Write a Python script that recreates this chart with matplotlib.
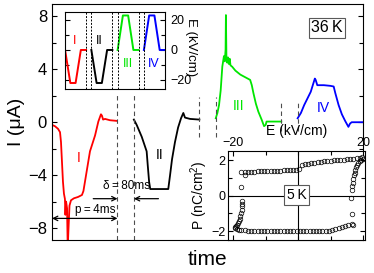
import matplotlib

matplotlib.use("Agg")
import matplotlib.pyplot as plt

plt.rcParams["font.family"] = ["Liberation Sans", "DejaVu Sans"]
plt.rcParams["mathtext.fontset"] = "custom"
plt.rcParams["mathtext.rm"] = "Liberation Sans"

# pulse windows: width p = 4, gap delta = 1 (arbitrary time units)
WINDOW_EDGES = [4, 5, 9, 10, 14, 15]
DASH_YMIN = [-8.9, -8.9, -1.1, -1.1, -0.7, -0.7]
DASH_YMAX = [2.1, 2.1, 1.9, 1.9, 1.7, 1.7]

# main panel: current I (uA) for the four pulses at 36 K
T_I = [0.0, 0.18, 0.37, 0.49, 0.55, 0.61, 0.67, 0.73, 0.79, 0.82, 0.86, 0.92,
       0.96, 1.01, 1.07, 1.16, 1.34, 1.59, 1.83, 1.92, 2.08, 2.32, 2.63, 2.83,
       2.99, 3.05, 3.12, 3.24, 3.54, 3.97]
I_I = [-0.2, -0.3, -0.5, -0.75, -1.5, -3.0, -4.5, -5.4, -5.8, -7.0, -6.0, -6.5,
       -9.5, -8.0, -6.3, -5.9, -5.75, -5.65, -5.5, -5.2, -4.0, -2.2, -1.0, 0.05,
       0.6, 0.5, 0.2, 0.25, 0.15, 0.1]

T_II = [5.0, 5.17, 5.48, 5.78, 5.85, 5.93, 6.0, 6.5, 7.1, 7.21, 7.33, 7.51,
        7.7, 7.88, 8.02, 8.12, 8.43, 9.0]
I_II = [0.2, -0.2, -1.1, -2.2, -3.3, -4.5, -5.05, -5.05, -5.05, -4.0, -2.8,
        -1.5, -0.4, 0.3, 0.7, 0.35, 0.25, 0.2]

T_III = [10.0, 10.1, 10.2, 10.3, 10.4, 10.45, 10.5, 10.55, 10.6, 10.62, 10.65,
         10.7, 10.75, 10.8, 10.85, 10.9, 11.0, 11.2, 11.5, 11.8, 12.1, 12.2,
         12.3, 12.45, 12.6, 12.8, 12.95, 13.05, 13.1, 13.5, 14.0]
I_III = [0.3, 0.7, 1.3, 2.4, 4.2, 4.6, 5.0, 4.6, 5.5, 8.1, 5.0, 4.5, 4.9, 4.4,
         4.8, 4.3, 4.2, 3.9, 3.6, 3.4, 3.2, 2.8, 2.2, 1.4, 0.8, 0.2, -0.3,
         -0.2, 0.05, 0.05, 0.05]

T_IV = [15.0, 15.2, 15.4, 15.6, 15.8, 15.95, 16.05, 16.1, 16.2, 16.6, 17.0,
        17.2, 17.3, 17.5, 17.7, 17.9, 18.1, 18.2, 18.3, 19.0]
I_IV = [0.3, 0.7, 1.3, 1.8, 2.3, 2.9, 3.3, 3.2, 2.8, 2.8, 2.75, 2.7, 2.2, 1.3,
        0.6, 0.1, -0.35, -0.1, 0.0, 0.0]

# inset 1: applied field E (kV/cm) per pulse
ET_I = [0, 1, 2, 3, 4]
E_I = [0, -22, -22, 0, 0]
ET_II = [5, 6, 7, 8, 9]
E_II = [0, -22, -22, 0, 0]
ET_III = [10, 11, 12, 13, 14]
E_III = [0, 23, 23, 0, 0]
ET_IV = [15, 16, 17, 18, 19]
E_IV = [0, 23, 23, 0, 0]

# inset 2: P-E loop at 5 K
LOOP_E = [19.8, 19.0, 18.0, 17.0, 16.0, 15.0, 14.0, 13.0, 12.0, 11.0, 10.0,
          9.0, 8.0, 7.0, 6.0, 5.0, 4.0, 3.0, 2.0, 1.2,
          0.3, -0.6, -1.5, -2.5, -3.5, -4.5, -5.5, -6.5, -7.5, -8.5, -9.5,
          -10.5, -11.5, -12.5, -13.5, -14.5, -15.5, -16.5, -17.5, -16.5, -17.5,
          -17.3, -17.2, -17.3, -17.4, -17.6, -17.8, -18.0, -18.3, -18.6, -19.0,
          -19.3, -19.6, -19.5, -19.0, -18.3,
          -17.5, -16.5, -15.5, -14.5, -13.5, -12.5, -11.5, -10.5, -9.5, -8.5,
          -7.5, -6.5, -5.5, -4.5, -3.5, -2.5, -1.5, -0.5, 0.5, 1.5, 2.5, 3.5,
          4.5, 5.5, 6.5, 7.5, 8.5, 9.5, 10.5, 11.5, 12.5, 13.5, 14.5, 15.5,
          16.5, 17.0,
          16.6, 16.3, 16.5, 16.7, 16.9, 17.0, 17.2, 17.4, 17.6, 17.9, 18.2,
          18.6, 19.0, 19.5, 20.0]
LOOP_P = [2.18, 2.15, 2.12, 2.10, 2.08, 2.06, 2.05, 2.03, 2.01, 2.00, 1.98,
          1.96, 1.94, 1.92, 1.90, 1.88, 1.85, 1.82, 1.78, 1.74,
          1.50, 1.47, 1.46, 1.45, 1.44, 1.43, 1.42, 1.42, 1.41, 1.40, 1.40,
          1.39, 1.38, 1.38, 1.37, 1.37, 1.36, 1.36, 1.32, 1.15, 0.47,
          -0.30, -0.45, -0.60, -0.80, -1.00, -1.15, -1.30, -1.45, -1.55, -1.65,
          -1.72, -1.78, -1.85, -1.90, -1.93,
          -1.95, -1.96, -1.97, -1.98, -1.98, -1.99, -1.99, -2.00, -2.00, -2.00,
          -2.01, -2.01, -2.01, -2.02, -2.02, -2.02, -2.02, -2.02, -2.02, -2.02,
          -2.02, -2.01, -2.01, -2.01, -2.00, -2.00, -1.99, -1.98, -1.95, -1.90,
          -1.85, -1.78, -1.72, -1.65, -1.62, -1.66,
          -1.05, -0.12, 0.35, 0.55, 0.75, 0.95, 1.15, 1.30, 1.45, 1.60, 1.75,
          1.88, 1.98, 2.05, 2.10]

RED, BLACK, GREEN, BLUE = "#ff0000", "#000000", "#00e600", "#0000ff"


def style_ticks(ax, size):
    ax.tick_params(which="both", direction="in", width=0.8, labelsize=size)
    ax.tick_params(which="major", length=3.5)
    ax.tick_params(which="minor", length=3.0)


fig = plt.figure(figsize=(3.74, 2.73), dpi=100)

# ---- main panel
ax = fig.add_axes([0.139, 0.121, 0.832, 0.865])
ax.plot(T_I, I_I, color=RED, lw=1.3)
ax.plot(T_II, I_II, color=BLACK, lw=1.3)
ax.plot(T_III, I_III, color=GREEN, lw=1.3)
ax.plot(T_IV, I_IV, color=BLUE, lw=1.3)
ax.vlines(WINDOW_EDGES, DASH_YMIN, DASH_YMAX, colors="0.3", lw=0.8,
          linestyles=(0, (4, 3)))
ax.set_xlim(0, 19)
ax.set_ylim(-8.9, 8.95)
ax.set_xticks([])
ax.set_yticks([-8, -4, 0, 4, 8])
ax.set_yticks([-6, -2, 2, 6], minor=True)
style_ticks(ax, 12)
ax.tick_params(axis="y", which="both", right=True)
ax.set_ylabel("I (\u03bcA)", fontsize=14, labelpad=2)
ax.set_xlabel("time", fontsize=15, labelpad=7)

ax.text(1.6, -2.7, "I", color=RED, fontsize=10, ha="center", va="center")
ax.text(6.55, -2.5, "II", color=BLACK, fontsize=10, ha="center", va="center")
ax.text(11.38, 1.2, "III", color=GREEN, fontsize=10, ha="center", va="center")
ax.text(16.57, 1.07, "IV", color=BLUE, fontsize=10, ha="center", va="center")
ax.text(16.8, 7.15, "36\u2009K", fontsize=11.5, ha="center", va="center",
        bbox=dict(boxstyle="square,pad=0.15", fc="white", ec="0.35", lw=0.8))

ax.annotate("", xy=(0, -7.27), xytext=(4, -7.27),
            arrowprops=dict(arrowstyle="<->", lw=0.9, color="black",
                            shrinkA=0, shrinkB=0, mutation_scale=8))
ax.annotate("", xy=(4, -5.78), xytext=(2.52, -5.78),
            arrowprops=dict(arrowstyle="->", lw=0.9, color="black",
                            shrinkA=0, shrinkB=0, mutation_scale=8))
ax.annotate("", xy=(5, -5.78), xytext=(6.5, -5.78),
            arrowprops=dict(arrowstyle="->", lw=0.9, color="black",
                            shrinkA=0, shrinkB=0, mutation_scale=8))
ax.text(2.63, -6.6, "p\u2009=\u20094ms", fontsize=8.5, ha="center", va="center")
ax.text(4.56, -4.8, "\u03b4\u2009=\u200980ms", fontsize=8.5, ha="center",
        va="center")

# ---- inset 1: field pulses
ax1 = fig.add_axes([0.174, 0.674, 0.267, 0.282])
ax1.plot(ET_I, E_I, color=RED, lw=1.4)
ax1.plot(ET_II, E_II, color=BLACK, lw=1.4)
ax1.plot(ET_III, E_III, color=GREEN, lw=1.4)
ax1.plot(ET_IV, E_IV, color=BLUE, lw=1.4)
for x in WINDOW_EDGES:
    ax1.axvline(x, color="black", lw=0.7, ls=(0, (2, 1.5)))
ax1.set_xlim(0, 19)
ax1.set_ylim(-26, 25.3)
ax1.set_xticks([])
ax1.set_yticks([-20, 0, 20])
ax1.set_yticks([-10, 10], minor=True)
style_ticks(ax1, 9)
ax1.tick_params(axis="y", which="both", left=True, right=True,
                labelleft=False, labelright=True, pad=4)
ax1.text(1.26, 0.55, "E (kV/cm)", transform=ax1.transAxes, fontsize=9.5,
         rotation=270, ha="center", va="center")
ax1.text(1.77, 6.2, "I", color=RED, fontsize=9, ha="center", va="center")
ax1.text(6.5, 6.2, "II", color=BLACK, fontsize=9, ha="center", va="center")
ax1.text(11.9, -9.3, "III", color=GREEN, fontsize=9, ha="center", va="center")
ax1.text(16.9, -9.3, "IV", color=BLUE, fontsize=9, ha="center", va="center")

# ---- inset 2: P-E hysteresis
ax2 = fig.add_axes([0.609, 0.121, 0.366, 0.327])
ax2.axhline(0, color="black", lw=0.8)
ax2.axvline(0, color="black", lw=0.8)
ax2.plot(LOOP_E, LOOP_P, ls="none", marker="o", ms=3.3, mfc="none",
         mec="black", mew=0.5)
ax2.set_xlim(-21.7, 20.5)
ax2.set_ylim(-2.5, 2.55)
ax2.set_xticks([-20, 20])
ax2.set_xticks([-10, 0, 10], minor=True)
ax2.set_yticks([-2, 0, 2])
ax2.set_yticks([-1, 1], minor=True)
style_ticks(ax2, 9)
ax2.tick_params(which="both", top=True, bottom=True, left=True, right=True,
                labeltop=True, labelbottom=False, pad=1.5)
ax2.xaxis.set_label_position("top")
ax2.set_xlabel("E (kV/cm)", fontsize=10, labelpad=1)
ax2.set_ylabel("P (nC/cm$^2$)", fontsize=10, labelpad=1)
ax2.text(-0.5, 0.05, "5\u2009K", fontsize=10, ha="center", va="center",
         bbox=dict(boxstyle="square,pad=0.2", fc="white", ec="0.35", lw=0.8))

fig.savefig("out.png", dpi=100)
